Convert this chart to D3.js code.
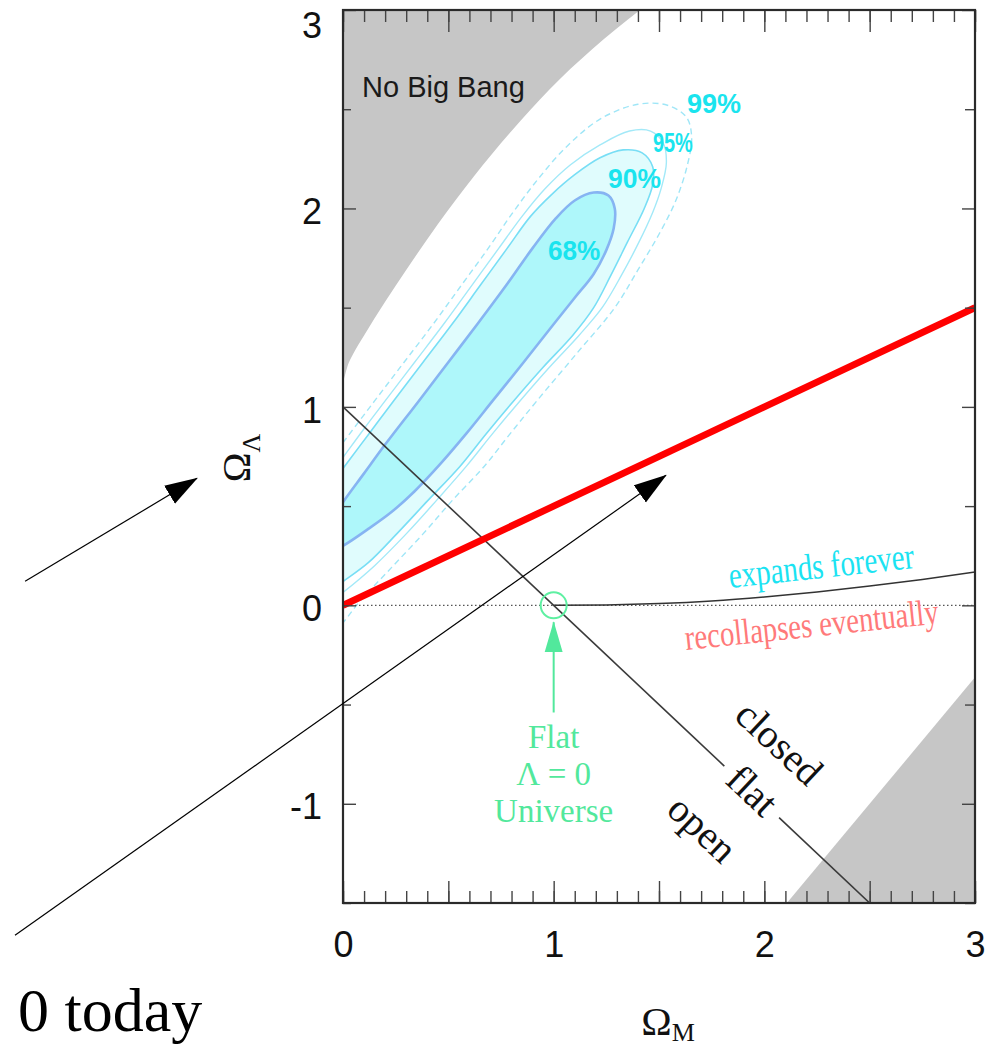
<!DOCTYPE html>
<html>
<head>
<meta charset="utf-8">
<script src="https://cdn.jsdelivr.net/npm/d3@7"></script>
<style>
  body { margin: 0; background: #fff; }
  svg { display: block; }
</style>
</head>
<body>
<svg id="chart" width="996" height="1048"></svg>
<script>
// ---------- data (Ω_M, Ω_Λ) ----------
const xDomain = [0, 3];
const yDomain = [-1.5, 3];
const xLabels = [0, 1, 2, 3];
const yLabels = [-1, 0, 1, 2, 3];

// edge of the "No Big Bang" zone
const noBigBangEdge = [[0, 1.12], [0.02, 1.2], [0.05, 1.27], [0.1, 1.36], [0.2, 1.53], [0.3, 1.69],
  [0.45, 1.92], [0.62, 2.16], [0.8, 2.39], [0.98, 2.6], [1.18, 2.8], [1.41, 3.0]];
// lower-right shaded zone edge
const lowerRightEdge = [[2.107, -1.5], [3.0, -0.363]];

// confidence contours
const contour68 = [[-0.12, 0.33], [0.0, 0.52], [0.1, 0.665], [0.2, 0.81], [0.36, 1.03], [0.5, 1.225],
  [0.64, 1.42], [0.78, 1.62], [0.90, 1.80], [1.01, 1.95], [1.10, 2.04], [1.19, 2.08], [1.26, 2.065],
  [1.29, 2.0], [1.285, 1.90], [1.25, 1.79], [1.19, 1.67], [1.10, 1.55], [0.98, 1.39], [0.85, 1.215],
  [0.71, 1.03], [0.585, 0.865], [0.46, 0.71], [0.34, 0.575], [0.23, 0.47], [0.12, 0.385], [0.0, 0.30],
  [-0.12, 0.24]];
const contour90 = [[-0.12, 0.52], [0.0, 0.69], [0.12, 0.86], [0.24, 1.03], [0.38, 1.225], [0.52, 1.42],
  [0.65, 1.61], [0.78, 1.80], [0.89, 1.96], [0.99, 2.07], [1.10, 2.17], [1.22, 2.255], [1.33, 2.295],
  [1.42, 2.28], [1.47, 2.21], [1.47, 2.12], [1.43, 2.0], [1.35, 1.83], [1.27, 1.66], [1.19, 1.50],
  [1.09, 1.36], [0.95, 1.20], [0.81, 1.03], [0.68, 0.865], [0.555, 0.70], [0.40, 0.525], [0.255, 0.36],
  [0.12, 0.215], [0.0, 0.12], [-0.12, 0.03]];
const contour95 = [[-0.12, 0.57], [0.0, 0.745], [0.10, 0.89], [0.20, 1.03], [0.34, 1.225], [0.48, 1.42],
  [0.61, 1.61], [0.74, 1.80], [0.85, 1.96], [0.96, 2.10], [1.08, 2.22], [1.22, 2.32], [1.36, 2.39],
  [1.46, 2.39], [1.52, 2.33], [1.535, 2.23], [1.51, 2.10], [1.47, 1.98], [1.40, 1.82], [1.32, 1.66],
  [1.23, 1.50], [1.12, 1.36], [0.98, 1.20], [0.84, 1.03], [0.71, 0.865], [0.585, 0.70], [0.445, 0.53],
  [0.30, 0.36], [0.15, 0.20], [0.0, 0.065], [-0.12, -0.03]];
const contour99 = [[-0.12, 0.65], [0.0, 0.82], [0.15, 1.03], [0.29, 1.225], [0.43, 1.42], [0.56, 1.61],
  [0.69, 1.80], [0.80, 1.97], [0.92, 2.14], [1.06, 2.31], [1.22, 2.45], [1.40, 2.525], [1.54, 2.52],
  [1.63, 2.46], [1.655, 2.36], [1.635, 2.22], [1.58, 2.04], [1.50, 1.87], [1.40, 1.69], [1.29, 1.50],
  [1.11, 1.27], [0.92, 1.03], [0.79, 0.86], [0.67, 0.70], [0.52, 0.53], [0.38, 0.36], [0.23, 0.19],
  [0.08, 0.02], [-0.02, -0.11], [-0.15, -0.22]];
const contourNames = ["68%", "90%", "95%", "99%"];

// expands forever / recollapses eventually boundary
const expandEdge = [[1.0, 0], [1.25, 0.002], [1.5, 0.009], [1.75, 0.022], [2.0, 0.042], [2.25, 0.067],
  [2.5, 0.097], [2.75, 0.13], [3.0, 0.168]];
// q0 = 0 line
const accelLine = [[0, 0], [3, 1.5]];
// flat universe line  Ω_M + Ω_Λ = 1
const flatLine = [[0, 1], [2.5, -1.5]];
const flatGap = [1.81, 2.07];
const flatPoint = [1, 0];

// ---------- layout ----------
const W = 996, H = 1048;
const plot = { left: 343, right: 975, top: 10, bottom: 903 };
const serif = "'Liberation Serif', 'Times New Roman', serif";
const sans = "'Liberation Sans', Arial, Helvetica, sans-serif";

const svg = d3.select("#chart");
svg.append("rect").attr("width", W).attr("height", H).attr("fill", "#fff");

const x = d3.scaleLinear().domain(xDomain).range([plot.left, plot.right]);
const y = d3.scaleLinear().domain(yDomain).range([plot.bottom, plot.top]);

const defs = svg.append("defs");
defs.append("clipPath").attr("id", "plotClip")
  .append("rect")
  .attr("x", plot.left).attr("y", plot.top)
  .attr("width", plot.right - plot.left).attr("height", plot.bottom - plot.top);

defs.append("marker").attr("id", "arrowHead")
  .attr("markerUnits", "userSpaceOnUse")
  .attr("viewBox", "0 -11 33 22")
  .attr("refX", 32).attr("refY", 0)
  .attr("markerWidth", 33).attr("markerHeight", 22)
  .attr("orient", "auto")
  .append("path").attr("d", "M0,-10.5L33,0L0,10.5Z").attr("fill", "#000");

defs.append("marker").attr("id", "greenHead")
  .attr("markerUnits", "userSpaceOnUse")
  .attr("viewBox", "0 -10 31 20")
  .attr("refX", 30).attr("refY", 0)
  .attr("markerWidth", 31).attr("markerHeight", 20)
  .attr("orient", "auto")
  .append("path").attr("d", "M0,-9L31,0L0,9Z").attr("fill", "#52e89c");

const line = d3.line().x(d => x(d[0])).y(d => y(d[1]));
const closedCurve = d3.line().x(d => x(d[0])).y(d => y(d[1])).curve(d3.curveCatmullRomClosed.alpha(0.5));
const openCurve = d3.line().x(d => x(d[0])).y(d => y(d[1])).curve(d3.curveMonotoneX);
const edgeCurve = d3.line().x(d => x(d[0])).y(d => y(d[1])).curve(d3.curveMonotoneX);

const area = svg.append("g").attr("clip-path", "url(#plotClip)");

// shaded zones
const nbbLast = noBigBangEdge[noBigBangEdge.length - 1];
area.append("path")
  .attr("d", edgeCurve(noBigBangEdge) +
    `L${x(nbbLast[0])},${y(3.2)}L${x(-0.1)},${y(3.2)}L${x(-0.1)},${y(noBigBangEdge[0][1])}Z`)
  .attr("fill", "#c6c6c6");
area.append("path")
  .attr("d", line([...lowerRightEdge, [3.1, -0.363], [3.1, -1.6], [2.107, -1.6]]) + "Z")
  .attr("fill", "#c6c6c6");

// contour fills
area.append("path").attr("d", closedCurve(contour90)).attr("fill", "#e0fcfd");
area.append("path").attr("d", closedCurve(contour68)).attr("fill", "#aef7fa");

// contour outlines
area.append("path").attr("d", closedCurve(contour99)).attr("fill", "none")
  .attr("stroke", "#9fe6f7").attr("stroke-width", 1.4).attr("stroke-dasharray", "6,4");
area.append("path").attr("d", closedCurve(contour95)).attr("fill", "none")
  .attr("stroke", "#a3e9f8").attr("stroke-width", 1.4);
area.append("path").attr("d", closedCurve(contour90)).attr("fill", "none")
  .attr("stroke", "#78def5").attr("stroke-width", 1.6);
area.append("path").attr("d", closedCurve(contour68)).attr("fill", "none")
  .attr("stroke", "#86b4f2").attr("stroke-width", 2.6);

// Ω_Λ = 0 reference (dotted)
area.append("path").attr("d", line([[0, 0], [3, 0]]))
  .attr("stroke", "#555").attr("stroke-width", 1.2).attr("stroke-dasharray", "1.5,2.5").attr("fill", "none");

// expansion boundary
area.append("path").attr("d", openCurve(expandEdge))
  .attr("stroke", "#333").attr("stroke-width", 1.5).attr("fill", "none");

// flat line with a gap for its label
const flatAt = m => [m, flatLine[0][1] + (flatLine[1][1] - flatLine[0][1]) * (m - flatLine[0][0]) / (flatLine[1][0] - flatLine[0][0])];
area.append("path").attr("d", line([flatLine[0], flatAt(flatGap[0])]))
  .attr("stroke", "#3a3a3a").attr("stroke-width", 1.6).attr("fill", "none");
area.append("path").attr("d", line([flatAt(flatGap[1]), flatLine[1]]))
  .attr("stroke", "#3a3a3a").attr("stroke-width", 1.6).attr("fill", "none");

// q0 = 0 line
area.append("path").attr("d", line(accelLine))
  .attr("stroke", "#ff0000").attr("stroke-width", 6.8).attr("fill", "none");

// flat Λ = 0 marker
area.append("circle").attr("cx", x(flatPoint[0])).attr("cy", y(flatPoint[1])).attr("r", 13)
  .attr("fill", "none").attr("stroke", "#5ef0a2").attr("stroke-width", 2);

// ---------- ticks ----------
const tickStyle = g => {
  g.select(".domain").remove();
  g.selectAll(".tick line").attr("stroke", "#444").attr("stroke-width", 1.4);
};
const tenths = d3.range(0, 31).map(i => i / 10);
const halvesX = d3.range(0, 7).map(i => i / 2);
const halvesY = d3.range(-3, 7).map(i => i / 2).filter(v => !Number.isInteger(v));
const intsY = d3.range(-1, 4);

svg.append("g").attr("transform", `translate(0,${plot.bottom})`)
  .call(d3.axisBottom(x).tickValues(tenths).tickSizeInner(-12).tickSizeOuter(0).tickFormat("")).call(tickStyle);
svg.append("g").attr("transform", `translate(0,${plot.bottom})`)
  .call(d3.axisBottom(x).tickValues(halvesX).tickSizeInner(-22).tickSizeOuter(0).tickFormat("")).call(tickStyle);
svg.append("g").attr("transform", `translate(0,${plot.top})`)
  .call(d3.axisTop(x).tickValues(tenths).tickSizeInner(-12).tickSizeOuter(0).tickFormat("")).call(tickStyle);
svg.append("g").attr("transform", `translate(0,${plot.top})`)
  .call(d3.axisTop(x).tickValues(halvesX).tickSizeInner(-22).tickSizeOuter(0).tickFormat("")).call(tickStyle);
svg.append("g").attr("transform", `translate(${plot.left},0)`)
  .call(d3.axisLeft(y).tickValues(halvesY).tickSizeInner(-8).tickSizeOuter(0).tickFormat("")).call(tickStyle);
svg.append("g").attr("transform", `translate(${plot.left},0)`)
  .call(d3.axisLeft(y).tickValues(intsY).tickSizeInner(-13).tickSizeOuter(0).tickFormat("")).call(tickStyle);
svg.append("g").attr("transform", `translate(${plot.right},0)`)
  .call(d3.axisRight(y).tickValues(halvesY).tickSizeInner(-10).tickSizeOuter(0).tickFormat("")).call(tickStyle);
svg.append("g").attr("transform", `translate(${plot.right},0)`)
  .call(d3.axisRight(y).tickValues(intsY).tickSizeInner(-13).tickSizeOuter(0).tickFormat("")).call(tickStyle);

// frame
svg.append("rect")
  .attr("x", plot.left).attr("y", plot.top)
  .attr("width", plot.right - plot.left).attr("height", plot.bottom - plot.top)
  .attr("fill", "none").attr("stroke", "#2a2a2a").attr("stroke-width", 2.2);

// tick labels
const labelStyle = g => {
  g.select(".domain").remove();
  g.attr("font-family", sans).attr("font-size", 36);
  g.selectAll("text").attr("fill", "#111");
};
svg.append("g").attr("transform", `translate(0,${plot.bottom})`)
  .call(d3.axisBottom(x).tickValues(xLabels).tickSize(0).tickPadding(28).tickFormat(d => String(d)))
  .call(labelStyle);
svg.append("g").attr("transform", `translate(${plot.left},0)`)
  .call(d3.axisLeft(y).tickValues(yLabels).tickSize(0).tickPadding(21).tickFormat(d => String(d)))
  .call(labelStyle)
  // the top label sits a little lower so it stays inside the page
  .call(g => g.selectAll("text").attr("dy", d => d === yDomain[1] ? "0.75em" : "0.42em"));

// axis titles
const yTitle = svg.append("text")
  .attr("transform", "translate(250,458) rotate(-90)")
  .attr("text-anchor", "middle").attr("font-family", serif).attr("fill", "#111");
yTitle.append("tspan").attr("font-size", 40).text("Ω");
yTitle.append("tspan").attr("font-size", 26).attr("dy", 10).text("Λ");

const xTitle = svg.append("text")
  .attr("x", 668).attr("y", 1035)
  .attr("text-anchor", "middle").attr("font-family", serif).attr("fill", "#111");
xTitle.append("tspan").attr("font-size", 41).text("Ω");
xTitle.append("tspan").attr("font-size", 26).attr("dy", 6).text("M");

// ---------- annotations ----------
svg.append("text").attr("x", 362).attr("y", 97)
  .attr("font-family", sans).attr("font-size", 29).attr("fill", "#1a1a1a").text("No Big Bang");

// contour level labels: [Ω_M, Ω_Λ] of the label start, horizontal squeeze
const levelLabelSpots = [[0.973, 1.739, 0.97], [1.258, 2.102, 0.98], [1.471, 2.283, 0.74], [1.633, 2.480, 1.0]];
contourNames.forEach((name, i) => {
  const [m, l, sx] = levelLabelSpots[i];
  svg.append("text")
    .attr("transform", `translate(${x(m)},${y(l)}) scale(${sx},1)`)
    .attr("font-family", sans).attr("font-weight", "bold").attr("font-size", 27)
    .attr("fill", "#1ae4ee").text(name);
});

// condensed serif captions either side of the expansion boundary
svg.append("text").attr("transform", "translate(730,588) rotate(-6.2) scale(0.785,1)")
  .attr("font-family", serif).attr("font-size", 37)
  .attr("fill", "#1be3f2").text("expands forever");
svg.append("text").attr("transform", "translate(686,650) rotate(-6) scale(0.8,1)")
  .attr("font-family", serif).attr("font-size", 36)
  .attr("fill", "#ff7a7a").text("recollapses eventually");

// labels along the flat line
const p0 = [x(flatLine[0][0]), y(flatLine[0][1])];
const p1 = [x(flatLine[1][0]), y(flatLine[1][1])];
const len = Math.hypot(p1[0] - p0[0], p1[1] - p0[1]);
const dir = [(p1[0] - p0[0]) / len, (p1[1] - p0[1]) / len];
const nrm = [dir[1], -dir[0]];
const ang = Math.atan2(dir[1], dir[0]) * 180 / Math.PI;
const flatFont = 40;
[["closed", 548, 53], ["flat", 561, 0], ["open", 551, -62]].forEach(([t, a, p]) => {
  const cx = p0[0] + dir[0] * a + nrm[0] * p;
  const cy = p0[1] + dir[1] * a + nrm[1] * p;
  svg.append("text")
    .attr("transform", `translate(${cx},${cy}) rotate(${ang})`)
    .attr("text-anchor", "middle").attr("dy", "0.3em")
    .attr("font-family", serif).attr("font-size", flatFont).attr("fill", "#111").text(t);
});

// flat Λ = 0 universe callout
svg.append("line")
  .attr("x1", x(1)).attr("y1", y(-0.54)).attr("x2", x(1)).attr("y2", y(-0.085))
  .attr("stroke", "#52e89c").attr("stroke-width", 2).attr("marker-end", "url(#greenHead)");
["Flat", "Λ = 0", "Universe"].forEach((t, i) => {
  svg.append("text").attr("x", x(1)).attr("y", 748 + i * 37)
    .attr("text-anchor", "middle").attr("font-family", serif).attr("font-size", 33)
    .attr("fill", "#52e89c").text(t);
});

// pointer arrows from the side text
const pointers = [[[-1.509, 0.121], [-0.693, 0.640]], [[-1.557, -1.663], [1.533, 0.655]]];
pointers.forEach(([a, b]) => {
  svg.append("line")
    .attr("x1", x(a[0])).attr("y1", y(a[1])).attr("x2", x(b[0])).attr("y2", y(b[1]))
    .attr("stroke", "#000").attr("stroke-width", 1.2).attr("marker-end", "url(#arrowHead)");
});

svg.append("text").attr("x", 18).attr("y", 1031)
  .attr("font-family", serif).attr("font-size", 62).attr("fill", "#000").text("0 today");
</script>
</body>
</html>
